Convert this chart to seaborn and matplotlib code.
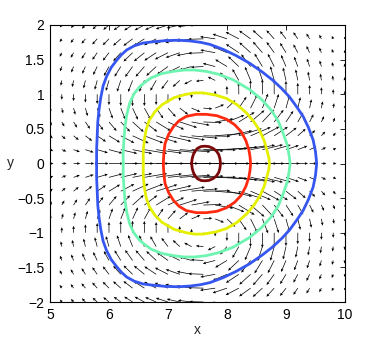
import numpy as np
import matplotlib
matplotlib.use("Agg")
import matplotlib.pyplot as plt
import seaborn as sns

sns.set_theme(style="white")
plt.rcParams['font.family'] = ['Liberation Sans', 'DejaVu Sans']

# arrow grid
grid_x = np.arange(5.0, 10.01, 0.2)
grid_y = np.arange(-2.0, 2.01, 0.2)

# flow shape (centre, widths, height of the turning line)
x_centre = 7.65
width_left = 1.75
width_right = 1.4
height = 1.41

# level curves, upper half (lower half is the mirror image)
blue_x = [5.79, 5.79, 5.80, 5.81, 5.83, 5.86, 5.90, 5.96, 6.04, 6.13, 6.21, 6.30, 6.43, 6.58, 6.77,
          6.97, 7.17, 7.37, 7.55, 7.71, 7.93, 8.15, 8.38, 8.60, 8.78, 8.93, 9.06, 9.18, 9.29, 9.38,
          9.46, 9.50, 9.52]
blue_y = [0.00, 0.20, 0.40, 0.60, 0.77, 0.95, 1.12, 1.26, 1.39, 1.49, 1.57, 1.64, 1.70, 1.74, 1.76,
          1.775, 1.78, 1.77, 1.75, 1.72, 1.65, 1.56, 1.45, 1.32, 1.20, 1.08, 0.96, 0.82, 0.68, 0.52,
          0.34, 0.17, 0.00]
cyan_x = [6.24, 6.24, 6.25, 6.26, 6.27, 6.30, 6.35, 6.42, 6.52, 6.62, 6.72, 6.90, 7.09, 7.27, 7.45,
          7.65, 7.85, 8.10, 8.38, 8.58, 8.75, 8.87, 8.95, 9.02, 9.05, 9.07]
cyan_y = [0.00, 0.15, 0.30, 0.42, 0.53, 0.70, 0.87, 1.00, 1.11, 1.18, 1.24, 1.30, 1.33, 1.35, 1.35,
          1.33, 1.29, 1.21, 1.07, 0.93, 0.77, 0.61, 0.44, 0.27, 0.13, 0.00]
yellow_x = [6.58, 6.58, 6.60, 6.63, 6.68, 6.78, 6.90, 7.10, 7.31, 7.45, 7.59, 7.80, 7.99, 8.17, 8.33,
            8.45, 8.55, 8.63, 8.68, 8.71, 8.72]
yellow_y = [0.00, 0.18, 0.35, 0.49, 0.62, 0.75, 0.85, 0.95, 1.00, 1.02, 1.02, 0.99, 0.94, 0.85, 0.73,
            0.61, 0.48, 0.33, 0.18, 0.08, 0.00]
red_x = [6.92, 6.93, 6.95, 7.01, 7.09, 7.19, 7.31, 7.48, 7.65, 7.83, 7.99, 8.13, 8.24, 8.32, 8.37,
         8.39, 8.40]
red_y = [0.00, 0.15, 0.29, 0.42, 0.53, 0.62, 0.68, 0.71, 0.71, 0.69, 0.64, 0.56, 0.46, 0.33, 0.20,
         0.10, 0.00]
dark_x = [7.40, 7.41, 7.43, 7.46, 7.50, 7.56, 7.62, 7.69, 7.76, 7.82, 7.86, 7.88, 7.89]
dark_y = [0.00, 0.07, 0.13, 0.18, 0.22, 0.245, 0.25, 0.245, 0.22, 0.18, 0.13, 0.07, 0.00]

curves = [
    (blue_x, blue_y, '#3656f0'),
    (cyan_x, cyan_y, '#6ef5b2'),
    (yellow_x, yellow_y, '#e4f000'),
    (red_x, red_y, '#ff2a10'),
    (dark_x, dark_y, '#7a0808'),
]

xticks = [5, 6, 7, 8, 9, 10]
yticks = [-2, -1.5, -1, -0.5, 0, 0.5, 1, 1.5, 2]
ytick_labels = ['\u22122', '\u22121.5', '\u22121', '\u22120.5', '0', '0.5', '1', '1.5', '2']

# vector field: stream function y*G with a gaussian G
X, Y = np.meshgrid(grid_x, grid_y)
dx = X - x_centre
a = np.where(dx < 0, width_left, width_right)
G = np.exp(-(dx / a) ** 2 - (Y / height) ** 2)
U = G * (1 - 2 * Y ** 2 / height ** 2)
V = 2 * Y * dx * G / a ** 2

fig = plt.figure(figsize=(3.82, 3.41), dpi=100)
ax = fig.add_axes([50 / 382, 39 / 341, 295 / 382, 277 / 341])

ax.quiver(X, Y, U, V, angles='xy', scale_units='xy', scale=1.7, pivot='tail',
          color='black', width=0.0024, headwidth=4, headlength=4.5, headaxislength=4)

for cx, cy, col in curves:
    cx = np.asarray(cx)
    cy = np.asarray(cy)
    loop_x = np.concatenate([cx, cx[::-1][1:]])
    loop_y = np.concatenate([cy, -cy[::-1][1:]])
    ax.plot(loop_x, loop_y, color=col, lw=2, solid_joinstyle='round')

ax.set_xlim(5, 10)
ax.set_ylim(-2, 2)
ax.set_xticks(xticks)
ax.set_xticklabels([str(t) for t in xticks])
ax.set_yticks(yticks)
ax.set_yticklabels(ytick_labels)
ax.tick_params(direction='in', top=True, right=True, length=3.5, width=0.6,
               labelsize=10, colors='black', pad=4)
for s in ax.spines.values():
    s.set_color('black')
    s.set_linewidth(0.8)
ax.set_xlabel('x', fontsize=10, labelpad=1)
ax.set_ylabel('y', fontsize=10, rotation=0, labelpad=5, va='center')

fig.savefig('out.png', dpi=100)
